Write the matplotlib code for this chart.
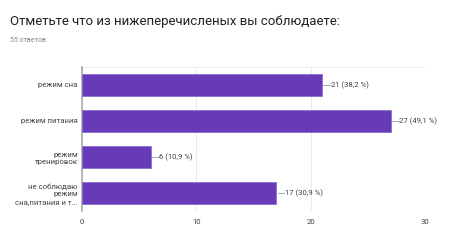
import matplotlib
matplotlib.use("Agg")
import matplotlib.pyplot as plt

plt.rcParams['font.family'] = ['Roboto', 'DejaVu Sans']

CATEGORIES = ['режим сна', 'режим питания', 'режим\nтренировок', 'не соблюдаю\nрежим\nсна,питания и т...']
COUNTS = [21, 27, 6, 17]
PERCENTS = ['38,2', '49,1', '10,9', '30,9']
X_TICKS = [0, 10, 20, 30]

BAR_COLOR = '#673ab7'

fig = plt.figure(figsize=(4.55, 2.48), dpi=100)
ax = fig.add_axes([82 / 455, 1 - 211 / 248, 343 / 455, 144 / 248])

ys = list(range(len(CATEGORIES)))
ax.barh(ys, COUNTS, height=0.62, color=BAR_COLOR, edgecolor='#8e6fd0', linewidth=0.6, zorder=3)
for y, c, p in zip(ys, COUNTS, PERCENTS):
    ax.plot([c + 0.1, c + 0.7], [y, y], color='#999999', lw=0.6, zorder=3)
    ax.text(c + 0.75, y, f'{c} ({p} %)', va='center', ha='left', fontsize=5.6, color='#444444')

ax.set_ylim(len(CATEGORIES) - 0.5, -0.5)
ax.set_xlim(0, 30)
ax.set_yticks(ys)
ax.set_yticklabels(CATEGORIES, fontsize=5.6, color='#444444', linespacing=1.25)
ax.set_xticks(X_TICKS)
ax.set_xticklabels([str(t) for t in X_TICKS], fontsize=5.6, color='#444444')
ax.tick_params(length=0, pad=3)
ax.tick_params(axis='x', pad=6)
ax.grid(axis='x', color='#e6e6e6', lw=0.6, zorder=0)
for s in ['top', 'right', 'bottom']:
    ax.spines[s].set_visible(False)
ax.spines['left'].set_color('#aaaaaa')
ax.spines['left'].set_linewidth(1.2)
ax.axhline(-0.5, color='#eeeeee', lw=0.6, zorder=0)

fig.text(10 / 455, 1 - 22 / 248, 'Отметьте что из нижеперечисленых вы соблюдаете:',
         fontsize=9.5, color='#222222', va='center', ha='left')
fig.text(10 / 455, 1 - 40 / 248, '55 ответов', fontsize=5, color='#888888', va='center', ha='left')

fig.savefig('out.png', dpi=100, facecolor='white')
